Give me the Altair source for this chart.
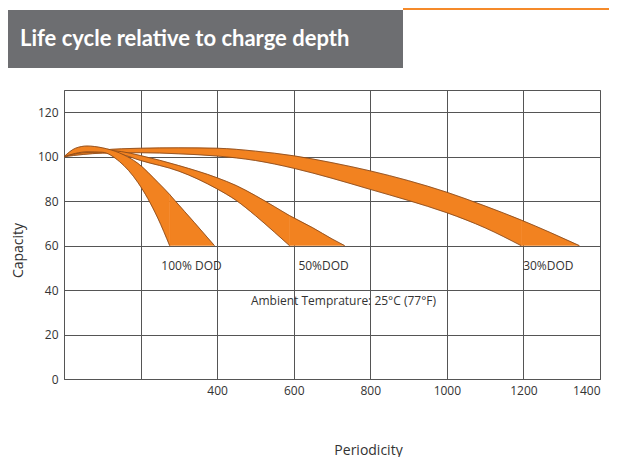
import altair as alt
import pandas as pd

TITLE = "Life cycle relative to charge depth"
X_TITLE = "Periodicity"
Y_TITLE = "Capacity"

x_ticks = [0, 200, 400, 600, 800, 1000, 1200, 1400]
y_ticks = [0, 20, 40, 60, 80, 100, 120]
FLOOR = 60  # capacity at which every band ends

# 100% DOD: x positions where both edges are read, upper (right) edge, lower (left) edge
dod100_x = [0, 30, 60, 100, 145, 193, 245, 276]
dod100_up = [100, 103.8, 104.8, 104, 101.7, 97, 88.5, 83]
dod100_lo = [100, 101.5, 102.2, 102, 97.8, 88.4, 72.4, 60]
# tail: right edge only, after the left edge has reached the floor
dod100_tail_x = [276, 289, 340, 393]
dod100_tail_up = [83, 80.4, 70.5, 60]

# 50% DOD
dod50_x = [0, 40, 90, 150, 200, 300, 400, 450, 500, 550, 589]
dod50_up = [100, 102.3, 103, 102.3, 100.5, 96, 90.5, 87, 82.5, 77.5, 73.5]
dod50_lo = [100, 101.6, 102, 101, 98.3, 93.5, 85.5, 80.3, 73.5, 66, 60]
dod50_tail_x = [589, 650, 700, 733]
dod50_tail_up = [73.5, 68, 63, 60]

# 30% DOD
dod30_x = [0, 50, 100, 200, 300, 400, 500, 600, 700, 800, 900, 1000, 1100, 1194]
dod30_up = [100, 102, 103, 103.8, 104, 103.8, 102.5, 100.4, 97.3, 93.6, 89.2, 84, 77.8, 71.5]
dod30_lo = [100, 101, 101.6, 101.8, 101.3, 100.3, 98.3, 94.8, 90.3, 85.3, 80.3, 74.8, 68, 60]
dod30_tail_x = [1194, 1270, 1346]
dod30_tail_up = [71.5, 65.9, 60]

label_text = ["100% DOD", "50%DOD", "30%DOD", "Ambient Temprature: 25°C (77°F)"]
label_x = [333, 678, 1265, 730]
label_y = [50.7, 50.7, 50.7, 35]

ORANGE = "#F28220"
EDGE = "#7d4319"
GRID = "#555555"
FONT = "Open Sans"

X = alt.X(
    "x:Q",
    scale=alt.Scale(domain=[0, 1400], nice=False, zero=False),
    axis=alt.Axis(
        values=x_ticks, format="d",
        labelExpr="datum.value >= 400 ? datum.label : ''",
        grid=True, ticks=False, domain=False,
        gridColor=GRID, gridWidth=1, gridOpacity=1,
        labelFont=FONT, labelFontSize=12, labelColor="#333333", labelPadding=6,
        title=X_TITLE, titleFont=FONT, titleFontSize=14, titleFontWeight="normal",
        titleColor="#333333", titleX=304, titleY=75, titleAlign="center",
        titleBaseline="alphabetic",
    ),
)
Y = alt.Y(
    "upper:Q",
    scale=alt.Scale(domain=[0, 130], nice=False),
    axis=alt.Axis(
        values=y_ticks, grid=True, ticks=False, domain=False,
        gridColor=GRID, gridWidth=1, gridOpacity=1,
        labelFont=FONT, labelFontSize=12, labelColor="#333333", labelPadding=6,
        title=Y_TITLE, titleFont=FONT, titleFontSize=14, titleFontWeight="normal",
        titleColor="#333333", titleX=-46, titleY=160, titleAngle=270,
        titleAlign="center", titleBaseline="middle",
    ),
)


def band(xs, up, lo, tx, tup):
    body = pd.DataFrame({"x": xs, "upper": up, "lower": lo})
    tail = pd.DataFrame({"x": tx, "upper": tup, "lower": [FLOOR] * len(tx)})
    edge_up = pd.DataFrame({"x": xs + tx[1:], "upper": up + tup[1:]})
    edge_lo = pd.DataFrame({"x": xs, "upper": lo})
    fill = dict(interpolate="monotone", color=ORANGE, stroke=ORANGE, strokeWidth=0.5)
    line = dict(interpolate="monotone", color=EDGE, strokeWidth=0.8)
    return [
        alt.Chart(body).mark_area(**fill).encode(x=X, y=Y, y2="lower:Q"),
        alt.Chart(tail).mark_area(**fill).encode(x=X, y=Y, y2="lower:Q"),
        alt.Chart(edge_up).mark_line(**line).encode(x=X, y=Y),
        alt.Chart(edge_lo).mark_line(**line).encode(x=X, y=Y),
    ]


labels_df = pd.DataFrame({"text": label_text, "x": label_x, "upper": label_y})
labels = alt.Chart(labels_df).mark_text(
    font=FONT, fontSize=12, color="#333333", align="center", baseline="middle"
).encode(x=X, y=Y, text="text:N")

one = pd.DataFrame({"t": [TITLE]})
title_bar = alt.Chart(one).mark_rect(color="#6d6e71").encode(
    x=alt.value(-56), x2=alt.value(339), y=alt.value(-80), y2=alt.value(-22)
)
top_line = alt.Chart(one).mark_rule(color="#F58A2A", strokeWidth=2).encode(
    x=alt.value(339), x2=alt.value(560), y=alt.value(-81)
)
title_text = alt.Chart(one).mark_text(
    font="Lato", fontWeight="bold", fontSize=22, color="white",
    align="left", baseline="alphabetic"
).encode(x=alt.value(-44), y=alt.value(-44), text="t:N")

layers = (
    band(dod30_x, dod30_up, dod30_lo, dod30_tail_x, dod30_tail_up)
    + band(dod50_x, dod50_up, dod50_lo, dod50_tail_x, dod50_tail_up)
    + band(dod100_x, dod100_up, dod100_lo, dod100_tail_x, dod100_tail_up)
    + [labels, title_bar, top_line, title_text]
)

chart = alt.layer(*layers).properties(
    width=536, height=289,
    autosize=alt.AutoSizeParams(type="none"),
    padding={"left": 56, "top": 82, "right": 9, "bottom": 78},
    background="white",
).configure_view(stroke=GRID, strokeWidth=1)

chart.save("out.html", embed_options={"renderer": "svg", "actions": False})
